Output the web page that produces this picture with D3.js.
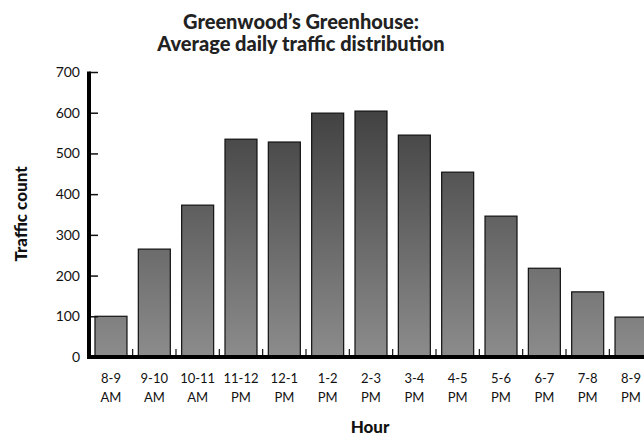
<!DOCTYPE html>
<html>
<head>
<meta charset="utf-8">
<script src="https://cdn.jsdelivr.net/npm/d3@7"></script>
<style>
  html, body { margin: 0; padding: 0; background: #fff; }
  svg { display: block; }
  text { font-family: "Lato", "Open Sans", sans-serif; fill: #111; }
</style>
</head>
<body>
<svg id="chart" width="644" height="435"></svg>
<script>
// Hour slots (two-line labels) and average traffic per slot
const hours = ["8-9 AM", "9-10 AM", "10-11 AM", "11-12 PM", "12-1 PM", "1-2 PM", "2-3 PM",
               "3-4 PM", "4-5 PM", "5-6 PM", "6-7 PM", "7-8 PM", "8-9 PM"];
const traffic = [100, 265, 373, 535, 528, 599, 604, 545, 454, 346, 218, 160, 98];
const yTicks = [0, 100, 200, 300, 400, 500, 600, 700];

const svg = d3.select("#chart");
const plotLeft = 89, plotTop = 72, plotBottom = 357;

const x = d3.scaleBand()
  .domain(hours)
  .range([plotLeft, 653])
  .paddingInner(0.2615)
  .paddingOuter(0.138);

const y = d3.scaleLinear().domain([0, 700]).range([plotBottom, plotTop]);

// vertical gradient shared across the plot area
const grad = svg.append("defs").append("linearGradient")
  .attr("id", "barFill")
  .attr("gradientUnits", "userSpaceOnUse")
  .attr("x1", 0).attr("x2", 0)
  .attr("y1", y(700)).attr("y2", y(0));
grad.append("stop").attr("offset", 0).attr("stop-color", "#363636");
grad.append("stop").attr("offset", 1).attr("stop-color", "#8c8c8c");

// title
const title = svg.append("text")
  .attr("x", 301).attr("text-anchor", "middle")
  .style("font-weight", 900).style("font-size", "20px").style("fill", "#222");
title.append("tspan").attr("x", 301).attr("y", 29).text("Greenwood’s Greenhouse:");
title.append("tspan").attr("x", 301).attr("y", 51).text("Average daily traffic distribution");

// bars
svg.append("g").selectAll("rect")
  .data(hours.map((h, i) => ({ h, v: traffic[i] })))
  .join("rect")
  .attr("x", d => x(d.h))
  .attr("y", d => y(d.v))
  .attr("width", x.bandwidth())
  .attr("height", d => y(0) - y(d.v))
  .attr("fill", "url(#barFill)")
  .attr("stroke", "#111")
  .attr("stroke-width", 1.2);

// y axis
const yAxis = svg.append("g")
  .attr("transform", `translate(${plotLeft},0)`)
  .call(d3.axisRight(y).tickValues(yTicks).tickSize(9).tickFormat(""));
yAxis.select(".domain").remove();
yAxis.selectAll(".tick line").attr("stroke", "#111").attr("stroke-width", 1.5);
svg.append("line")
  .attr("x1", plotLeft).attr("x2", plotLeft)
  .attr("y1", y(700) - 0.5).attr("y2", plotBottom + 2)
  .attr("stroke", "#000").attr("stroke-width", 4);
svg.append("g").selectAll("text")
  .data(yTicks)
  .join("text")
  .attr("x", 80).attr("y", d => y(d))
  .attr("dy", "0.36em")
  .attr("text-anchor", "end")
  .style("font-size", "14px")
  .text(d => d);

// x axis: thin ticks between slots, thick baseline
const step = x.step();
const boundaries = hours.slice(1).map(h => x(h) - (step - x.bandwidth()) / 2);
svg.append("g").selectAll("line")
  .data(boundaries)
  .join("line")
  .attr("x1", d => d).attr("x2", d => d)
  .attr("y1", plotBottom - 8).attr("y2", plotBottom)
  .attr("stroke", "#111").attr("stroke-width", 1.2);
svg.append("line")
  .attr("x1", plotLeft - 2).attr("x2", 644)
  .attr("y1", plotBottom).attr("y2", plotBottom)
  .attr("stroke", "#000").attr("stroke-width", 4);

const xl = svg.append("g").selectAll("text")
  .data(hours)
  .join("text")
  .attr("text-anchor", "middle")
  .style("font-size", "13px");
xl.each(function(h) {
  const parts = h.split(" ");
  const cx = x(h) + x.bandwidth() / 2;
  const t = d3.select(this);
  t.append("tspan").attr("x", cx).attr("y", 383).text(parts[0]);
  t.append("tspan").attr("x", cx).attr("y", 402).text(parts[1]);
});

// axis titles
svg.append("text")
  .attr("x", 370).attr("y", 432.5)
  .attr("text-anchor", "middle")
  .style("font-weight", 900).style("font-size", "17px")
  .text("Hour");
svg.append("text")
  .attr("transform", "translate(27,214) rotate(-90)")
  .attr("text-anchor", "middle")
  .style("font-weight", 900).style("font-size", "17px")
  .text("Traffic count");
</script>
</body>
</html>
